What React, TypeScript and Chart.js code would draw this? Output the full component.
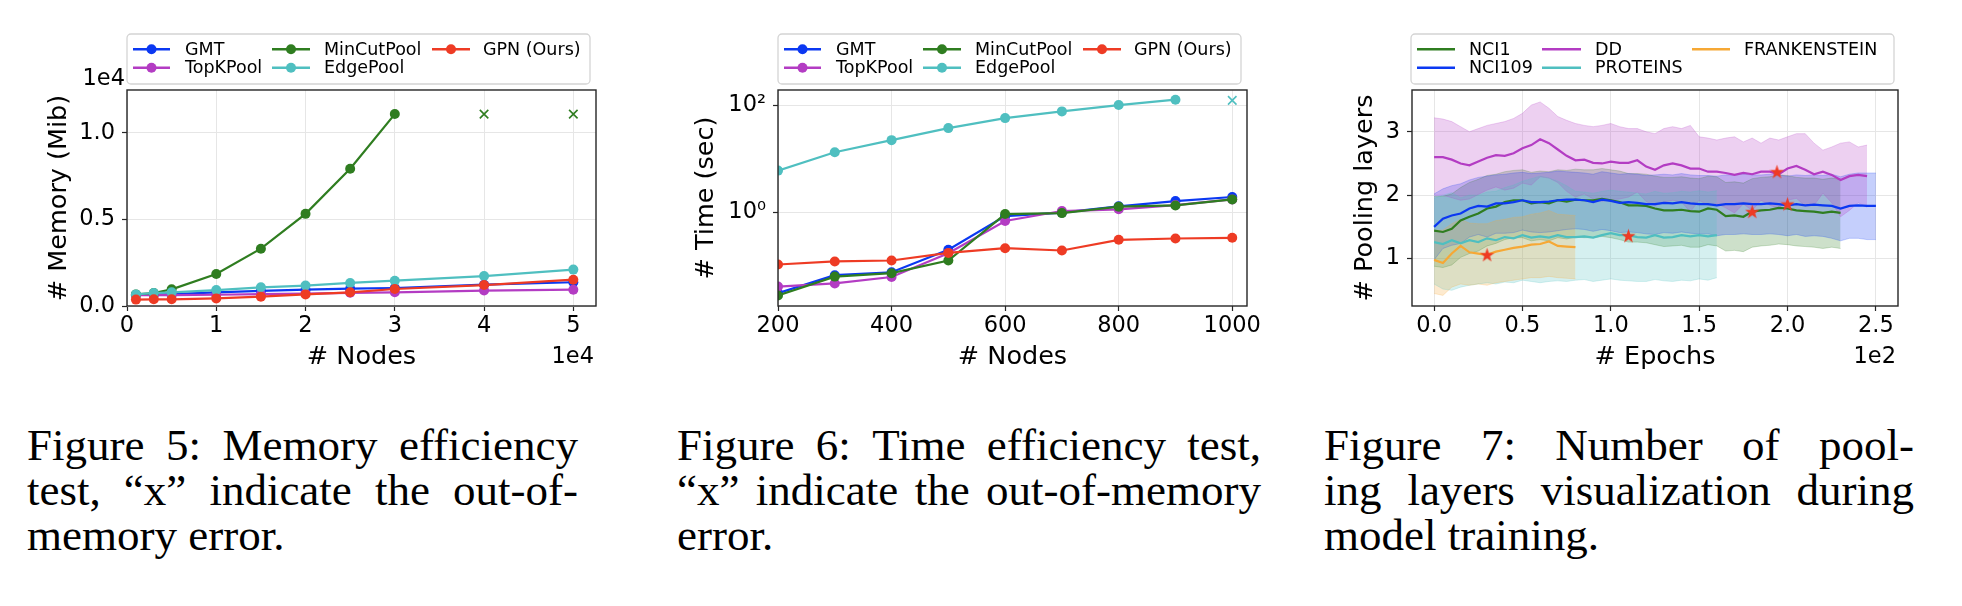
import React, { useEffect, useRef } from "react";
import { Chart, registerables } from "chart.js";

Chart.register(...registerables);

const FONT = "'DejaVu Sans', sans-serif";
const CAP_FONT = "'Liberation Serif', 'Times New Roman', serif";
Chart.defaults.font.family = FONT;
Chart.defaults.color = "#000";

// ---------- colours ----------
const C_BLUE = "#0b38f2";
const C_PURPLE = "#b33cc3";
const C_GREEN = "#2f7d20";
const C_CYAN = "#4fbfc0";
const C_RED = "#ee3b24";
const C_ORANGE = "#f6a835";

// ---------- Figure 5: memory ----------
const MEM_SERIES = ["GMT", "TopKPool", "MinCutPool", "EdgePool", "GPN (Ours)"];
const MEM_NODES = [1000, 3000, 5000, 10000, 15000, 20000, 25000, 30000, 40000, 50000];
const MEM_GMT = [640, 660, 680, 790, 870, 940, 1000, 1040, 1230, 1370];
const MEM_TOPK = [620, 630, 630, 650, 680, 720, 760, 790, 890, 940];
const MEM_MINCUT = [670, 750, 960, 1850, 3310, 5320, 7920, 11080];
const MEM_EDGE = [670, 750, 790, 920, 1080, 1180, 1330, 1460, 1730, 2100];
const MEM_GPN = [370, 385, 385, 440, 540, 670, 790, 980, 1210, 1520];
const MEM_OOM_NODES = [40000, 50000];
const MEM_OOM_VALUES = [11080, 11080];
const MEM_X_TICKS = [0, 10000, 20000, 30000, 40000, 50000];
const MEM_X_LABELS = ["0", "1", "2", "3", "4", "5"];
const MEM_Y_TICKS = [0, 5000, 10000];
const MEM_Y_LABELS = ["0.0", "0.5", "1.0"];

// ---------- Figure 6: time ----------
const TIME_NODES = [200, 300, 400, 500, 600, 700, 800, 900, 1000];
const TIME_GMT = [0.031, 0.067, 0.076, 0.2, 0.85, 0.99, 1.3, 1.63, 1.94];
const TIME_TOPK = [0.041, 0.047, 0.062, 0.173, 0.69, 1.06, 1.14, 1.37, 1.75];
const TIME_MINCUT = [0.028, 0.063, 0.073, 0.126, 0.93, 0.97, 1.28, 1.35, 1.75];
const TIME_EDGE = [6.04, 13.3, 22.4, 37.6, 57.9, 77.2, 101.5, 127.8];
const TIME_GPN = [0.106, 0.121, 0.126, 0.175, 0.214, 0.194, 0.307, 0.325, 0.335];
const TIME_OOM_NODES = [1000];
const TIME_OOM_VALUES = [124];
const TIME_X_TICKS = [200, 400, 600, 800, 1000];
const TIME_X_LABELS = ["200", "400", "600", "800", "1000"];
const TIME_Y_TICKS = [1, 100];
const TIME_Y_LABELS = ["10\u2070", "10\u00b2"];

// ---------- Figure 7: pooling layers ----------
const EPOCHS = [0, 5, 10, 15, 20, 25, 30, 35, 40, 45, 50, 55, 60, 65, 70, 75, 80, 85, 90, 95, 100, 105, 110, 115, 120, 125, 130, 135, 140, 145, 150, 155, 160, 165, 170, 175, 180, 185, 190, 195, 200, 205, 210, 215, 220, 225, 230, 235, 240, 245, 250];
const POOL_SERIES = ["NCI1", "NCI109", "DD", "PROTEINS", "FRANKENSTEIN"];
const NCI1_MEAN = [1.44, 1.42, 1.47, 1.6, 1.66, 1.71, 1.79, 1.82, 1.89, 1.92, 1.92, 1.87, 1.89, 1.87, 1.92, 1.9, 1.93, 1.92, 1.92, 1.94, 1.92, 1.89, 1.84, 1.84, 1.83, 1.79, 1.76, 1.76, 1.77, 1.75, 1.74, 1.79, 1.77, 1.67, 1.68, 1.66, 1.74, 1.76, 1.77, 1.8, 1.79, 1.76, 1.75, 1.74, 1.72, 1.74, 1.72];
const NCI1_UP = [1.98, 1.98, 2.02, 2.12, 2.2, 2.25, 2.31, 2.33, 2.37, 2.39, 2.4, 2.36, 2.38, 2.37, 2.4, 2.39, 2.41, 2.4, 2.4, 2.42, 2.4, 2.38, 2.34, 2.34, 2.33, 2.3, 2.28, 2.28, 2.29, 2.27, 2.26, 2.3, 2.29, 2.2, 2.21, 2.19, 2.26, 2.28, 2.29, 2.32, 2.31, 2.28, 2.27, 2.27, 2.25, 2.27, 2.25];
const NCI1_LO = [0.88, 0.86, 0.9, 1.02, 1.08, 1.12, 1.2, 1.24, 1.3, 1.33, 1.33, 1.28, 1.3, 1.28, 1.33, 1.31, 1.34, 1.33, 1.33, 1.35, 1.33, 1.3, 1.26, 1.26, 1.25, 1.22, 1.19, 1.2, 1.21, 1.18, 1.18, 1.22, 1.2, 1.12, 1.13, 1.11, 1.18, 1.2, 1.21, 1.23, 1.22, 1.2, 1.19, 1.18, 1.16, 1.18, 1.16];
const NCI109_MEAN = [1.5, 1.63, 1.68, 1.71, 1.79, 1.83, 1.82, 1.87, 1.87, 1.89, 1.92, 1.89, 1.89, 1.9, 1.92, 1.93, 1.93, 1.92, 1.89, 1.93, 1.91, 1.88, 1.89, 1.88, 1.86, 1.86, 1.88, 1.87, 1.89, 1.87, 1.86, 1.86, 1.84, 1.86, 1.86, 1.87, 1.86, 1.86, 1.87, 1.86, 1.84, 1.86, 1.84, 1.85, 1.84, 1.83, 1.79, 1.83, 1.84, 1.83, 1.83];
const NCI109_UP = [2.02, 2.1, 2.15, 2.18, 2.24, 2.28, 2.3, 2.32, 2.33, 2.35, 2.36, 2.34, 2.35, 2.36, 2.38, 2.37, 2.36, 2.35, 2.33, 2.37, 2.35, 2.33, 2.34, 2.33, 2.31, 2.32, 2.33, 2.32, 2.34, 2.32, 2.31, 2.31, 2.3, 2.32, 2.32, 2.33, 2.32, 2.32, 2.33, 2.32, 2.3, 2.32, 2.31, 2.32, 2.31, 2.33, 2.29, 2.33, 2.35, 2.35, 2.35];
const NCI109_LO = [0.98, 1.16, 1.21, 1.24, 1.34, 1.38, 1.34, 1.4, 1.4, 1.41, 1.45, 1.42, 1.41, 1.42, 1.44, 1.46, 1.47, 1.46, 1.43, 1.46, 1.44, 1.41, 1.42, 1.41, 1.39, 1.38, 1.41, 1.4, 1.42, 1.4, 1.39, 1.39, 1.36, 1.38, 1.38, 1.39, 1.38, 1.38, 1.39, 1.38, 1.36, 1.38, 1.35, 1.36, 1.35, 1.32, 1.28, 1.32, 1.32, 1.3, 1.3];
const DD_MEAN = [2.6, 2.6, 2.56, 2.5, 2.47, 2.53, 2.59, 2.63, 2.62, 2.66, 2.74, 2.79, 2.88, 2.82, 2.72, 2.62, 2.55, 2.56, 2.51, 2.5, 2.53, 2.51, 2.51, 2.55, 2.45, 2.4, 2.47, 2.5, 2.47, 2.42, 2.42, 2.37, 2.37, 2.35, 2.32, 2.35, 2.33, 2.37, 2.37, 2.33, 2.42, 2.46, 2.4, 2.33, 2.37, 2.32, 2.24, 2.3, 2.32, 2.3];
const DD_UP = [3.22, 3.2, 3.16, 3.08, 3.0, 3.05, 3.1, 3.13, 3.16, 3.21, 3.29, 3.42, 3.47, 3.37, 3.24, 3.18, 3.13, 3.1, 3.08, 3.1, 3.13, 3.08, 3.05, 3.05, 3.0, 2.97, 3.05, 3.08, 3.05, 3.1, 2.92, 2.9, 2.87, 2.9, 2.92, 2.84, 2.9, 2.82, 2.9, 2.87, 2.92, 2.97, 2.97, 2.82, 2.71, 2.76, 2.82, 2.84, 2.76, 2.79];
const DD_LO = [2.0, 2.0, 1.96, 1.92, 1.94, 2.01, 2.08, 2.13, 2.08, 2.11, 2.19, 2.16, 2.29, 2.27, 2.2, 2.06, 1.97, 2.02, 1.94, 1.9, 1.93, 1.94, 1.97, 2.05, 1.9, 1.83, 1.89, 1.92, 1.89, 1.74, 1.92, 1.84, 1.87, 1.8, 1.72, 1.86, 1.76, 1.92, 1.84, 1.79, 1.92, 1.95, 1.83, 1.84, 2.03, 1.88, 1.66, 1.76, 1.88, 1.81];
const PROT_MEAN = [1.26, 1.23, 1.29, 1.24, 1.29, 1.26, 1.32, 1.29, 1.34, 1.32, 1.37, 1.33, 1.35, 1.33, 1.37, 1.34, 1.34, 1.35, 1.33, 1.37, 1.4, 1.37, 1.37, 1.34, 1.33, 1.37, 1.33, 1.34, 1.37, 1.35, 1.37, 1.35, 1.37];
const PROT_UP = [1.95, 2.0, 2.04, 1.96, 2.0, 2.0, 2.05, 2.06, 2.12, 2.16, 2.22, 2.26, 2.3, 2.27, 2.22, 2.15, 2.06, 2.05, 2.03, 2.06, 2.08, 2.06, 2.05, 2.03, 2.02, 2.06, 2.03, 2.04, 2.06, 2.05, 2.07, 2.05, 2.07];
const PROT_LO = [0.6, 0.52, 0.5, 0.55, 0.58, 0.6, 0.62, 0.6, 0.63, 0.62, 0.66, 0.64, 0.62, 0.64, 0.65, 0.64, 0.66, 0.67, 0.64, 0.66, 0.68, 0.66, 0.65, 0.64, 0.64, 0.67, 0.65, 0.64, 0.66, 0.65, 0.68, 0.66, 0.7];
const FRANK_MEAN = [0.98, 0.93, 1.08, 1.2, 1.1, 1.08, 1.06, 1.11, 1.14, 1.17, 1.19, 1.22, 1.23, 1.27, 1.2, 1.19, 1.18];
const FRANK_UP = [1.45, 1.45, 1.55, 1.62, 1.56, 1.55, 1.55, 1.6, 1.62, 1.65, 1.66, 1.7, 1.72, 1.76, 1.7, 1.69, 1.68];
const FRANK_LO = [0.45, 0.42, 0.55, 0.6, 0.58, 0.6, 0.58, 0.62, 0.64, 0.66, 0.68, 0.7, 0.7, 0.72, 0.7, 0.69, 0.68];
const STAR_EPOCHS = [30, 110, 180, 194, 200];
const STAR_VALUES = [1.06, 1.36, 1.74, 2.37, 1.86];
const POOL_X_TICKS = [0, 50, 100, 150, 200, 250];
const POOL_X_LABELS = ["0.0", "0.5", "1.0", "1.5", "2.0", "2.5"];
const POOL_Y_TICKS = [1, 2, 3];
const POOL_Y_LABELS = ["1", "2", "3"];

// ---------- captions ----------
const CAPTIONS = [
  { left: 27, width: 551, lines: ["Figure 5:  Memory efficiency", "test, \u201cx\u201d indicate the out-of-", "memory error."] },
  { left: 677, width: 584, lines: ["Figure 6: Time efficiency test,", "\u201cx\u201d indicate the out-of-memory", "error."] },
  { left: 1324, width: 590, lines: ["Figure 7:  Number of pool-", "ing layers visualization during", "model training."] },
];

// ---------- helpers ----------
const pts = (xs: number[], ys: number[]) => ys.map((y, i) => ({ x: xs[i], y }));
const rgba = (hex: string, a: number) => {
  const n = parseInt(hex.slice(1), 16);
  return `rgba(${(n >> 16) & 255},${(n >> 8) & 255},${n & 255},${a})`;
};

type LegendItem = { label: string; color: string; col: number; row: number };
type LegendCfg = {
  box: [number, number, number, number];
  rows: number[];
  handles: [number, number][];
  texts: number[];
  items: LegendItem[];
  marker: boolean;
};

function legendPlugin(cfg: LegendCfg) {
  return {
    id: "mplLegend",
    afterDraw(chart: any) {
      const ctx = chart.ctx as CanvasRenderingContext2D;
      const [x, y, w, h] = cfg.box;
      const r = 4;
      ctx.save();
      ctx.beginPath();
      ctx.moveTo(x + r, y);
      ctx.arcTo(x + w, y, x + w, y + h, r);
      ctx.arcTo(x + w, y + h, x, y + h, r);
      ctx.arcTo(x, y + h, x, y, r);
      ctx.arcTo(x, y, x + w, y, r);
      ctx.closePath();
      ctx.fillStyle = "rgba(255,255,255,0.85)";
      ctx.fill();
      ctx.strokeStyle = "#d4d4d4";
      ctx.lineWidth = 1.3;
      ctx.stroke();
      ctx.font = `17.5px ${FONT}`;
      ctx.textBaseline = "middle";
      ctx.textAlign = "left";
      for (const it of cfg.items) {
        const [a, b] = cfg.handles[it.col];
        const yy = cfg.rows[it.row];
        ctx.strokeStyle = it.color;
        ctx.lineWidth = 2.4;
        ctx.beginPath();
        ctx.moveTo(a, yy);
        ctx.lineTo(b, yy);
        ctx.stroke();
        if (cfg.marker) {
          ctx.fillStyle = it.color;
          ctx.beginPath();
          ctx.arc((a + b) / 2, yy, 5, 0, Math.PI * 2);
          ctx.fill();
        }
        ctx.fillStyle = "#000";
        ctx.fillText(it.label, cfg.texts[it.col], yy + 1);
      }
      ctx.restore();
    },
  };
}

const framePlugin = {
  id: "frame",
  afterDatasetsDraw(chart: any) {
    const { left, top, right, bottom } = chart.chartArea;
    const ctx = chart.ctx as CanvasRenderingContext2D;
    ctx.save();
    ctx.strokeStyle = "#262626";
    ctx.lineWidth = 1.4;
    ctx.strokeRect(left, top, right - left, bottom - top);
    ctx.restore();
  },
};

function textPlugin(items: { text: string; x: number; y: number }[]) {
  return {
    id: "offsetText",
    afterDraw(chart: any) {
      const ctx = chart.ctx as CanvasRenderingContext2D;
      ctx.save();
      ctx.font = `22.5px ${FONT}`;
      ctx.fillStyle = "#000";
      ctx.textAlign = "right";
      ctx.textBaseline = "alphabetic";
      for (const t of items) ctx.fillText(t.text, t.x, t.y);
      ctx.restore();
    },
  };
}

function makeStar(size: number, color: string) {
  const c = document.createElement("canvas");
  c.width = size;
  c.height = size;
  const ctx = c.getContext("2d")!;
  const cx = size / 2, cy = size / 2 + 0.6, R = size / 2, r = R * 0.4;
  ctx.beginPath();
  for (let i = 0; i < 10; i++) {
    const ang = -Math.PI / 2 + (i * Math.PI) / 5;
    const rad = i % 2 === 0 ? R : r;
    ctx.lineTo(cx + rad * Math.cos(ang), cy + rad * Math.sin(ang));
  }
  ctx.closePath();
  ctx.fillStyle = color;
  ctx.fill();
  return c;
}

const GRID = { color: "#e6e6e6", lineWidth: 1, tickColor: "#262626", tickLength: 5, tickWidth: 1.2 };

function xAxis(min: number, max: number, ticks: number[], labels: string[], title: string, height: number) {
  return {
    type: "linear",
    min,
    max,
    afterBuildTicks: (s: any) => { s.ticks = ticks.map((v) => ({ value: v })); },
    afterFit: (s: any) => { s.height = height; },
    ticks: { callback: (_v: any, i: number) => labels[i], font: { size: 22.5 }, color: "#000", padding: 2, maxRotation: 0, autoSkip: false },
    grid: GRID,
    border: { display: false },
    title: { display: true, text: title, font: { size: 25.5 }, color: "#000", padding: { top: 0, bottom: 27.7 } },
  };
}

function yAxis(type: string, min: number, max: number, ticks: number[], labels: string[], title: string, width: number, titlePad: number) {
  return {
    type,
    min,
    max,
    afterBuildTicks: (s: any) => { s.ticks = ticks.map((v) => ({ value: v })); },
    afterFit: (s: any) => { s.width = width; },
    ticks: { callback: (_v: any, i: number) => labels[i], font: { size: 22.5 }, color: "#000", padding: 7, autoSkip: false },
    grid: GRID,
    border: { display: false },
    title: { display: true, text: title, font: { size: 25.5 }, color: "#000", padding: { top: titlePad, bottom: 0 } },
  };
}

const lineDs = (label: string, data: any[], color: string, order: number, marker: boolean) => ({
  label,
  data,
  borderColor: color,
  backgroundColor: color,
  borderWidth: 2.2,
  pointRadius: marker ? 5 : 0,
  pointHoverRadius: marker ? 5 : 0,
  pointBorderWidth: 0,
  tension: 0,
  fill: false,
  order,
});

const oomDs = (xs: number[], ys: number[], color: string) => ({
  label: "OOM",
  data: pts(xs, ys),
  showLine: false,
  pointStyle: "crossRot",
  pointRadius: 6,
  pointHoverRadius: 6,
  pointBorderWidth: 1.6,
  pointBorderColor: color,
  borderColor: color,
  backgroundColor: color,
  order: 0,
});

const LEGEND_5COL = {
  box: [127, 34, 463, 50] as [number, number, number, number],
  rows: [49.3, 67.7],
  handles: [[133, 170], [272, 310], [432, 470]] as [number, number][],
  texts: [185, 324, 483],
};

function memConfig(): any {
  const colors = [C_BLUE, C_PURPLE, C_GREEN, C_CYAN, C_RED];
  const vals = [MEM_GMT, MEM_TOPK, MEM_MINCUT, MEM_EDGE, MEM_GPN];
  return {
    type: "line",
    data: {
      datasets: [
        ...MEM_SERIES.map((n, i) => lineDs(n, pts(MEM_NODES, vals[i]), colors[i], 10 - i, true)),
        oomDs(MEM_OOM_NODES, MEM_OOM_VALUES, C_GREEN),
      ],
    },
    options: {
      responsive: false,
      animation: false,
      events: [],
      layout: { padding: { left: 0, right: 54, top: 90, bottom: 0 } },
      plugins: { legend: { display: false }, tooltip: { enabled: false } },
      scales: {
        x: xAxis(0, 52540, MEM_X_TICKS, MEM_X_LABELS, "# Nodes", 94),
        y: yAxis("linear", 0, 12470, MEM_Y_TICKS, MEM_Y_LABELS, "# Memory (Mib)", 127, 44),
      },
    },
    plugins: [
      framePlugin,
      legendPlugin({ ...LEGEND_5COL, marker: true, items: MEM_SERIES.map((n, i) => ({ label: n, color: colors[i], col: [0, 0, 1, 1, 2][i], row: [0, 1, 0, 1, 0][i] })) }),
      textPlugin([{ text: "1e4", x: 125, y: 85 }, { text: "1e4", x: 594, y: 363 }]),
    ],
  };
}

function timeConfig(): any {
  const colors = [C_BLUE, C_PURPLE, C_GREEN, C_CYAN, C_RED];
  const vals = [TIME_GMT, TIME_TOPK, TIME_MINCUT, TIME_EDGE, TIME_GPN];
  return {
    type: "line",
    data: {
      datasets: [
        ...MEM_SERIES.map((n, i) => lineDs(n, pts(TIME_NODES, vals[i]), colors[i], 10 - i, true)),
        oomDs(TIME_OOM_NODES, TIME_OOM_VALUES, C_CYAN),
      ],
    },
    options: {
      responsive: false,
      animation: false,
      events: [],
      layout: { padding: { left: 0, right: 54, top: 90, bottom: 0 } },
      plugins: { legend: { display: false }, tooltip: { enabled: false } },
      scales: {
        x: xAxis(200, 1026, TIME_X_TICKS, TIME_X_LABELS, "# Nodes", 94),
        y: yAxis("logarithmic", 0.01778, 194, TIME_Y_TICKS, TIME_Y_LABELS, "# Time (sec)", 127, 40),
      },
    },
    plugins: [
      framePlugin,
      legendPlugin({ ...LEGEND_5COL, marker: true, items: MEM_SERIES.map((n, i) => ({ label: n, color: colors[i], col: [0, 0, 1, 1, 2][i], row: [0, 1, 0, 1, 0][i] })) }),
    ],
  };
}

function poolConfig(): any {
  const colors = [C_GREEN, C_BLUE, C_PURPLE, C_CYAN, C_ORANGE];
  const means = [NCI1_MEAN, NCI109_MEAN, DD_MEAN, PROT_MEAN, FRANK_MEAN];
  const ups = [NCI1_UP, NCI109_UP, DD_UP, PROT_UP, FRANK_UP];
  const los = [NCI1_LO, NCI109_LO, DD_LO, PROT_LO, FRANK_LO];
  const star = makeStar(15, C_RED);
  const datasets: any[] = [
    {
      label: "best",
      data: pts(STAR_EPOCHS, STAR_VALUES),
      showLine: false,
      pointStyle: star,
      pointRadius: 7,
      pointHoverRadius: 7,
      order: 0,
    },
  ];
  POOL_SERIES.forEach((n, i) => {
    datasets.push(lineDs(n, pts(EPOCHS, means[i]), colors[i], 10 - i, false));
  });
  POOL_SERIES.forEach((n, i) => {
    datasets.push({
      label: n + " upper",
      data: pts(EPOCHS, ups[i]),
      borderColor: rgba(colors[i], 0.28),
      borderWidth: 0.8,
      backgroundColor: rgba(colors[i], 0.24),
      pointRadius: 0,
      pointHoverRadius: 0,
      tension: 0,
      fill: "+1",
      order: 30 - i,
    });
    datasets.push({
      label: n + " lower",
      data: pts(EPOCHS, los[i]),
      borderColor: rgba(colors[i], 0.28),
      borderWidth: 0.8,
      backgroundColor: "rgba(0,0,0,0)",
      pointRadius: 0,
      pointHoverRadius: 0,
      tension: 0,
      fill: false,
      order: 30 - i,
    });
  });
  return {
    type: "line",
    data: { datasets },
    options: {
      responsive: false,
      animation: false,
      events: [],
      layout: { padding: { left: 0, right: 64, top: 90, bottom: 0 } },
      plugins: { legend: { display: false }, tooltip: { enabled: false }, filler: { drawTime: "beforeDatasetsDraw" } },
      scales: {
        x: xAxis(-12.5, 262.5, POOL_X_TICKS, POOL_X_LABELS, "# Epochs", 94),
        y: yAxis("linear", 0.253, 3.658, POOL_Y_TICKS, POOL_Y_LABELS, "# Pooling layers", 111, 48.7),
      },
    },
    plugins: [
      framePlugin,
      legendPlugin({
        box: [110, 34, 483, 50],
        rows: [49.3, 67.7],
        handles: [[116, 154], [241, 280], [391, 429]],
        texts: [168, 294, 443],
        marker: false,
        items: POOL_SERIES.map((n, i) => ({ label: n, color: colors[i], col: [0, 0, 1, 1, 2][i], row: [0, 1, 0, 1, 0][i] })),
      }),
      textPlugin([{ text: "1e2", x: 595, y: 363 }]),
    ],
  };
}

function ChartBox({ left, width, height, make }: { left: number; width: number; height: number; make: () => any }) {
  const ref = useRef<HTMLCanvasElement>(null);
  useEffect(() => {
    const chart = new Chart(ref.current!, make());
    return () => chart.destroy();
  }, []);
  return (
    <div style={{ position: "absolute", left, top: 0, width, height }}>
      <canvas ref={ref} width={width} height={height} style={{ width, height, display: "block" }} />
    </div>
  );
}

function Caption({ left, width, lines }: { left: number; width: number; lines: string[] }) {
  return (
    <div style={{ position: "absolute", left, top: 423, width, fontFamily: CAP_FONT, fontSize: 45, lineHeight: "45px", color: "#000" }}>
      {lines.map((ln, i) =>
        i < lines.length - 1 ? (
          <div key={i} style={{ display: "flex", justifyContent: "space-between", whiteSpace: "nowrap" }}>
            {ln.split(/\s+/).map((w, j) => (
              <span key={j}>{w}</span>
            ))}
          </div>
        ) : (
          <div key={i} style={{ whiteSpace: "nowrap" }}>{ln}</div>
        )
      )}
    </div>
  );
}

export default function App() {
  return (
    <div style={{ position: "absolute", left: 0, top: 0, width: 1962, height: 606, background: "#fff", overflow: "hidden" }}>
      <ChartBox left={0} width={650} height={400} make={memConfig} />
      <ChartBox left={651} width={650} height={400} make={timeConfig} />
      <ChartBox left={1301} width={661} height={400} make={poolConfig} />
      {CAPTIONS.map((c, i) => (
        <Caption key={i} left={c.left} width={c.width} lines={c.lines} />
      ))}
    </div>
  );
}
